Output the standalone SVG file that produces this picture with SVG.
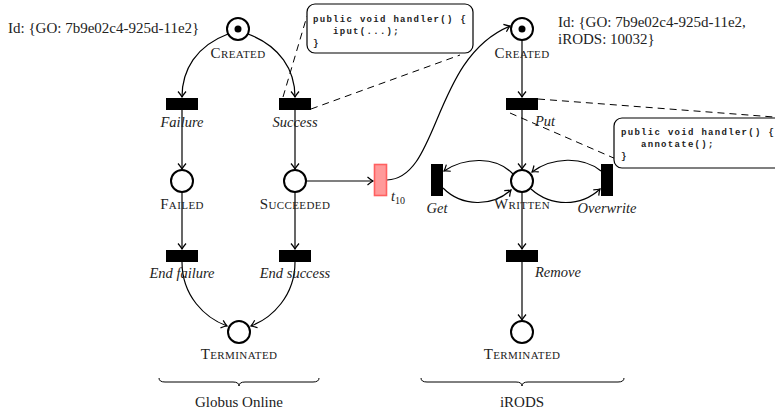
<svg xmlns="http://www.w3.org/2000/svg" width="775" height="410" viewBox="0 0 775 410">
<defs>
<marker id="arr" viewBox="-7 -6 9 12" markerWidth="9" markerHeight="12" refX="0" refY="0" orient="auto" markerUnits="userSpaceOnUse">
<path d="M -5.5,-4 Q -2,-1 0,0 Q -2,1 -5.5,4" fill="none" stroke="#000" stroke-width="1.2"/>
</marker>
<style>
.pl{fill:#fff;stroke:#000;stroke-width:2}
.tr{fill:#000}
.ar{fill:none;stroke:#000;stroke-width:1.2;marker-end:url(#arr)}
.da{fill:none;stroke:#000;stroke-width:1;stroke-dasharray:7 5}
.sc{font-family:"Liberation Serif",serif;font-size:15px;font-variant:small-caps;letter-spacing:0.4px;text-anchor:middle;fill:#222}
.it{font-family:"Liberation Serif",serif;font-size:14.5px;font-style:italic;fill:#222}
.rm{font-family:"Liberation Serif",serif;font-size:15px;fill:#222}
.cd{font-family:"Liberation Mono",monospace;font-size:9px;font-weight:bold;letter-spacing:1.3px;fill:#222}
.box{fill:#fff;stroke:#000;stroke-width:1.2}
.br{fill:none;stroke:#000;stroke-width:1}
</style>
</defs>
<g id="connectors">
<path class="ar" d="M 228,34 C 196,46 182,70 182,97"/>
<path class="ar" d="M 248,34 C 280,46 295,70 295,97"/>
<path class="ar" d="M 182,110 L 182,169"/>
<path class="ar" d="M 295,110 L 295,169"/>
<path class="ar" d="M 182,192 L 182,249"/>
<path class="ar" d="M 295,192 L 295,249"/>
<path class="ar" d="M 182,262 C 182,296 205,318 227,326"/>
<path class="ar" d="M 295,262 C 295,296 272,318 251,326"/>
<path class="ar" d="M 306,181 L 373,181"/>
<path class="ar" d="M 387,180 C 440,178 432,58 510,26"/>
<path class="ar" d="M 522,40 L 522,97"/>
<path class="ar" d="M 522,110 L 522,169"/>
<path class="ar" d="M 513,174 C 496,156 465,157 444,171"/>
<path class="ar" d="M 443,188 C 462,207 492,207 511,190"/>
<path class="ar" d="M 531,189 C 551,207 581,207 600,189"/>
<path class="ar" d="M 601,171 C 583,156 552,157 532,172"/>
<path class="ar" d="M 522,192 L 522,249"/>
<path class="ar" d="M 522,262 L 522,320"/>
<path class="da" d="M 283,97 L 307,16"/>
<path class="da" d="M 311,109 L 460,55"/>
<path class="da" d="M 538,99 L 774,117"/>
<path class="da" d="M 510,113 L 616,159"/>
</g>
<g id="id-go">
<text class="rm" x="8" y="33">Id: {GO: 7b9e02c4-925d-11e2}</text>
</g>
<g id="id-irods">
<text class="rm" x="558" y="27">Id: {GO: 7b9e02c4-925d-11e2,</text>
<text class="rm" x="558" y="44">iRODS: 10032}</text>
</g>
<g id="go-created">
<circle class="pl" cx="238" cy="29" r="11"/>
<circle cx="238" cy="29" r="3.5" fill="#000"/>
<text class="sc" x="238" y="58">Created</text>
</g>
<g id="go-failure">
<rect class="tr" x="166" y="98" width="32" height="12"/>
<text class="it" x="182" y="127" text-anchor="middle">Failure</text>
</g>
<g id="go-success">
<rect class="tr" x="279" y="98" width="32" height="12"/>
<text class="it" x="295" y="127" text-anchor="middle">Success</text>
</g>
<g id="go-failed">
<circle class="pl" cx="182" cy="181" r="11"/>
<text class="sc" x="182" y="209">Failed</text>
</g>
<g id="go-succeeded">
<circle class="pl" cx="295" cy="181" r="11"/>
<text class="sc" x="295" y="209">Succeeded</text>
</g>
<g id="go-endfailure">
<rect class="tr" x="166" y="250" width="32" height="12"/>
<text class="it" x="182" y="278" text-anchor="middle">End failure</text>
</g>
<g id="go-endsuccess">
<rect class="tr" x="279" y="250" width="32" height="12"/>
<text class="it" x="295" y="278" text-anchor="middle">End success</text>
</g>
<g id="go-terminated">
<circle class="pl" cx="239" cy="332" r="11"/>
<text class="sc" x="239" y="359">Terminated</text>
</g>
<g id="t10">
<rect x="374.5" y="164.5" width="12" height="31" fill="#ff9a9a" stroke="#ff6060" stroke-width="1.6"/>
<text class="it" x="391" y="201">t<tspan font-size="10" font-style="normal" dy="3">10</tspan></text>
</g>
<g id="ir-created">
<circle class="pl" cx="522" cy="29" r="11"/>
<circle cx="522" cy="29" r="3.5" fill="#000"/>
<text class="sc" x="522" y="58">Created</text>
</g>
<g id="ir-put">
<rect class="tr" x="506" y="98" width="32" height="12"/>
<text class="it" x="535" y="126">Put</text>
</g>
<g id="ir-written">
<circle class="pl" cx="522" cy="181" r="11"/>
<text class="sc" x="522" y="209">Written</text>
</g>
<g id="ir-get">
<rect class="tr" x="431" y="164" width="12" height="32"/>
<text class="it" x="437" y="213" text-anchor="middle">Get</text>
</g>
<g id="ir-overwrite">
<rect class="tr" x="601" y="164" width="12" height="32"/>
<text class="it" x="607" y="213" text-anchor="middle">Overwrite</text>
</g>
<g id="ir-remove">
<rect class="tr" x="506" y="250" width="32" height="12"/>
<text class="it" x="535" y="277">Remove</text>
</g>
<g id="ir-terminated">
<circle class="pl" cx="522" cy="332" r="11"/>
<text class="sc" x="522" y="359">Terminated</text>
</g>
<g id="code-go">
<rect class="box" x="307" y="4" width="166" height="49" rx="8"/>
<text class="cd" x="313" y="22">public void handler() {</text>
<text class="cd" x="333" y="34">iput(...);</text>
<text class="cd" x="313" y="46">}</text>
</g>
<g id="code-irods">
<rect class="box" x="614" y="118" width="170" height="50" rx="8"/>
<text class="cd" x="621" y="135">public void handler() {</text>
<text class="cd" x="641" y="147">annotate();</text>
<text class="cd" x="621" y="159">}</text>
</g>
<g id="brace-go">
<path class="br" d="M 159,378 Q 159,382 165,382 L 233,382 Q 239,382 239,386 Q 239,382 245,382 L 313,382 Q 319,382 319,378"/>
<text class="rm" x="239" y="407" text-anchor="middle">Globus Online</text>
</g>
<g id="brace-irods">
<path class="br" d="M 421,378 Q 421,382 427,382 L 516,382 Q 522,382 522,386 Q 522,382 528,382 L 618,382 Q 624,382 624,378"/>
<text class="rm" x="522" y="407" text-anchor="middle">iRODS</text>
</g>
</svg>
